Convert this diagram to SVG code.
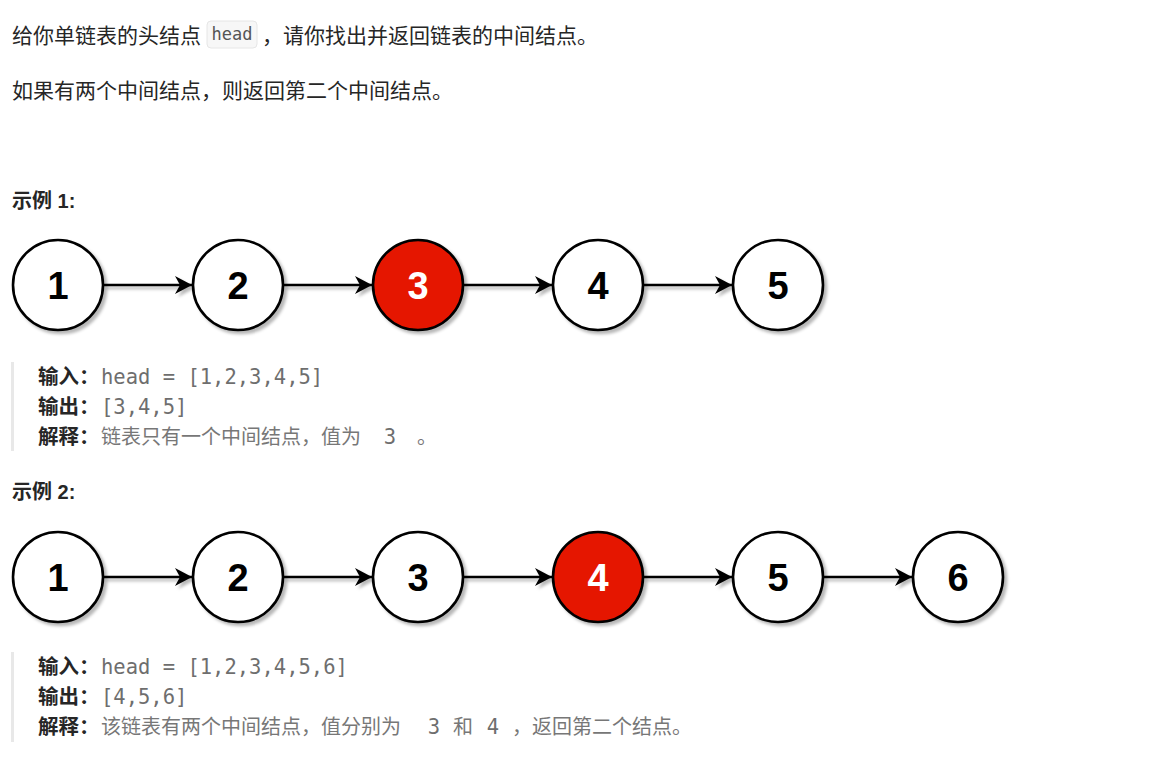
<svg xmlns="http://www.w3.org/2000/svg" width="1155" height="776" viewBox="0 0 1155 776">
<style>
.t{font-family:"Liberation Sans","Noto Sans CJK SC",sans-serif;font-size:21px;fill:#262626}
.h{font-family:"Liberation Sans","Noto Sans CJK SC",sans-serif;font-size:20px;font-weight:bold;fill:#262626}
.lb{font-family:"Liberation Sans","Noto Sans CJK SC",sans-serif;font-size:20.5px;font-weight:bold;fill:#262626}
.g{font-family:"Liberation Sans","Noto Sans CJK SC",sans-serif;font-size:20px;fill:#777}
.m{font-family:"DejaVu Sans Mono","Liberation Mono",monospace;font-size:20.5px;fill:#6e6e6e}
.code{font-family:"DejaVu Sans Mono","Liberation Mono",monospace;font-size:17px;fill:#555}
.c{stroke:#000;stroke-width:2.6;fill:#fff}
.r{fill:#e51400}
.n{font-family:"Liberation Sans",Arial,sans-serif;font-size:38px;font-weight:bold;text-anchor:middle;fill:#000}
.nw{fill:#fff}
.e{stroke:#000;stroke-width:2.6;fill:none;marker-end:url(#arr)}
.bar{fill:#e8e8e8}
</style>
<defs>
<filter id="sh" x="-20%" y="-20%" width="140%" height="140%">
<feDropShadow dx="3" dy="3" stdDeviation="1.5" flood-color="#000" flood-opacity="0.28"/>
</filter>
<filter id="shl" filterUnits="userSpaceOnUse" x="0" y="0" width="1155" height="776">
<feDropShadow dx="3" dy="3" stdDeviation="1.5" flood-color="#000" flood-opacity="0.28"/>
</filter>
<marker id="arr" markerUnits="userSpaceOnUse" markerWidth="20" markerHeight="20" refX="17" refY="9" orient="auto">
<path d="M0,0 L17,9 L0,18 L5,9 z" fill="#000"/>
</marker>
</defs>

<rect width="1155" height="776" fill="#fff"/>

<g id="intro">
<text class="t" x="12" y="43">给你单链表的头结点</text>
<rect x="207" y="21" width="50" height="27" rx="4" fill="#f7f7f7" stroke="#e6e6e6"/>
<text class="code" x="232" y="40" text-anchor="middle">head</text>
<text class="t" x="262" y="43">，请你找出并返回链表的中间结点。</text>
<text class="t" x="12" y="98">如果有两个中间结点，则返回第二个中间结点。</text>
</g>

<text class="h" x="12" y="208">示例 1:</text>

<g id="ex1-connectors" filter="url(#shl)">
<line class="e" x1="103" y1="285" x2="192" y2="285"/>
<line class="e" x1="283" y1="285" x2="372" y2="285"/>
<line class="e" x1="463" y1="285" x2="552" y2="285"/>
<line class="e" x1="643" y1="285" x2="732" y2="285"/>
</g>
<g id="ex1-n1"><circle class="c" cx="58" cy="285" r="45" filter="url(#sh)"/><text class="n" x="58" y="299">1</text></g>
<g id="ex1-n2"><circle class="c" cx="238" cy="285" r="45" filter="url(#sh)"/><text class="n" x="238" y="299">2</text></g>
<g id="ex1-n3"><circle class="c r" cx="418" cy="285" r="45" filter="url(#sh)"/><text class="n nw" x="418" y="299">3</text></g>
<g id="ex1-n4"><circle class="c" cx="598" cy="285" r="45" filter="url(#sh)"/><text class="n" x="598" y="299">4</text></g>
<g id="ex1-n5"><circle class="c" cx="778" cy="285" r="45" filter="url(#sh)"/><text class="n" x="778" y="299">5</text></g>

<g id="ex1-quote">
<rect class="bar" x="11" y="362" width="3" height="89"/>
<text class="lb" x="38" y="384">输入：</text>
<text class="m" x="101" y="384">head = [1,2,3,4,5]</text>
<text class="lb" x="38" y="414">输出：</text>
<text class="m" x="101" y="414">[3,4,5]</text>
<text class="lb" x="38" y="444">解释：</text>
<text class="g" x="101" y="444">链表只有一个中间结点，值为</text>
<text class="m" x="390" y="444" text-anchor="middle">3</text>
<text class="g" x="417" y="444">。</text>
</g>

<text class="h" x="12" y="499">示例 2:</text>

<g id="ex2-connectors" filter="url(#shl)">
<line class="e" x1="103" y1="577" x2="192" y2="577"/>
<line class="e" x1="283" y1="577" x2="372" y2="577"/>
<line class="e" x1="463" y1="577" x2="552" y2="577"/>
<line class="e" x1="643" y1="577" x2="732" y2="577"/>
<line class="e" x1="823" y1="577" x2="912" y2="577"/>
</g>
<g id="ex2-n1"><circle class="c" cx="58" cy="577" r="45" filter="url(#sh)"/><text class="n" x="58" y="591">1</text></g>
<g id="ex2-n2"><circle class="c" cx="238" cy="577" r="45" filter="url(#sh)"/><text class="n" x="238" y="591">2</text></g>
<g id="ex2-n3"><circle class="c" cx="418" cy="577" r="45" filter="url(#sh)"/><text class="n" x="418" y="591">3</text></g>
<g id="ex2-n4"><circle class="c r" cx="598" cy="577" r="45" filter="url(#sh)"/><text class="n nw" x="598" y="591">4</text></g>
<g id="ex2-n5"><circle class="c" cx="778" cy="577" r="45" filter="url(#sh)"/><text class="n" x="778" y="591">5</text></g>
<g id="ex2-n6"><circle class="c" cx="958" cy="577" r="45" filter="url(#sh)"/><text class="n" x="958" y="591">6</text></g>

<g id="ex2-quote">
<rect class="bar" x="11" y="652" width="3" height="90"/>
<text class="lb" x="38" y="674">输入：</text>
<text class="m" x="101" y="674">head = [1,2,3,4,5,6]</text>
<text class="lb" x="38" y="704">输出：</text>
<text class="m" x="101" y="704">[4,5,6]</text>
<text class="lb" x="38" y="734">解释：</text>
<text class="g" x="101" y="734">该链表有两个中间结点，值分别为</text>
<text class="m" x="434" y="734" text-anchor="middle">3</text>
<text class="g" x="453" y="734">和</text>
<text class="m" x="493" y="734" text-anchor="middle">4</text>
<text class="g" x="512" y="734">，返回第二个结点。</text>
</g>
</svg>
